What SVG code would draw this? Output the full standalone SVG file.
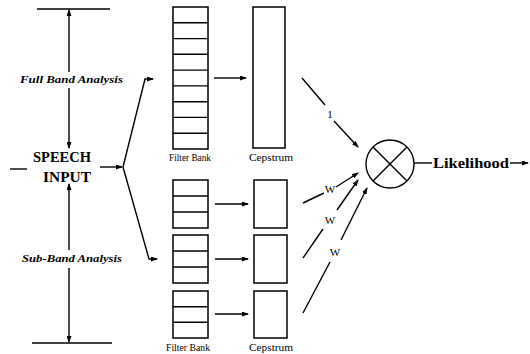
<svg xmlns="http://www.w3.org/2000/svg" width="530" height="354" viewBox="0 0 530 354">
<style>
.ln{stroke:#000;stroke-width:1.4;fill:none}
.box{stroke:#000;stroke-width:1.5;fill:#fff}
.ar{marker-end:url(#ah)}
.lbl{font-family:"Liberation Serif",serif;font-size:11px;fill:#000}
.it{font-family:"Liberation Serif",serif;font-size:10.5px;font-style:italic;font-weight:bold;fill:#000}
.big{font-family:"Liberation Serif",serif;font-size:14px;font-weight:bold;fill:#000}
</style>
<defs>
<marker id="ah" markerWidth="7" markerHeight="5" refX="6" refY="2.5" orient="auto" markerUnits="userSpaceOnUse">
<path d="M0,0 L7,2.5 L0,5 Z" fill="#000"/>
</marker>
</defs>
<rect width="530" height="354" fill="#fff"/>

<g id="axis">
<line class="ln" x1="37" y1="9" x2="110" y2="9"/>
<line class="ln" x1="32" y1="343" x2="112" y2="343"/>
<line class="ln ar" x1="69" y1="72" x2="69" y2="10"/>
<line class="ln ar" x1="69" y1="88" x2="69" y2="148"/>
<line class="ln ar" x1="69" y1="250" x2="69" y2="184"/>
<line class="ln ar" x1="69" y1="268" x2="69" y2="342"/>
<text class="it" x="20" y="83" textLength="103" lengthAdjust="spacingAndGlyphs">Full Band Analysis</text>
<text class="it" x="22" y="262" textLength="100" lengthAdjust="spacingAndGlyphs">Sub-Band Analysis</text>
</g>

<g id="speech-input">
<line class="ln" x1="10" y1="169" x2="27" y2="169"/>
<text class="big" x="33" y="162" textLength="58" lengthAdjust="spacingAndGlyphs">SPEECH</text>
<text class="big" x="43" y="182" textLength="48" lengthAdjust="spacingAndGlyphs">INPUT</text>
</g>

<g id="fb-top">
<rect class="box" x="173" y="7" width="35" height="142"/>
<g class="ln">
<line x1="173" y1="22.8" x2="208" y2="22.8"/>
<line x1="173" y1="38.6" x2="208" y2="38.6"/>
<line x1="173" y1="54.3" x2="208" y2="54.3"/>
<line x1="173" y1="70.1" x2="208" y2="70.1"/>
<line x1="173" y1="85.9" x2="208" y2="85.9"/>
<line x1="173" y1="101.7" x2="208" y2="101.7"/>
<line x1="173" y1="117.4" x2="208" y2="117.4"/>
<line x1="173" y1="133.2" x2="208" y2="133.2"/>
</g>
<text class="lbl" x="169" y="161" textLength="42" lengthAdjust="spacingAndGlyphs">Filter Bank</text>
</g>

<g id="cep-top">
<rect class="box" x="253" y="7" width="32" height="141"/>
<text class="lbl" x="249" y="161" textLength="44" lengthAdjust="spacingAndGlyphs">Cepstrum</text>
</g>

<g id="fb-1">
<rect class="box" x="173" y="180" width="35" height="48"/>
<line class="ln" x1="173" y1="196" x2="208" y2="196"/>
<line class="ln" x1="173" y1="212" x2="208" y2="212"/>
</g>
<g id="fb-2">
<rect class="box" x="173" y="235" width="35" height="48"/>
<line class="ln" x1="173" y1="251" x2="208" y2="251"/>
<line class="ln" x1="173" y1="267" x2="208" y2="267"/>
</g>
<g id="fb-3">
<rect class="box" x="173" y="291" width="35" height="47"/>
<line class="ln" x1="173" y1="306.7" x2="208" y2="306.7"/>
<line class="ln" x1="173" y1="322.3" x2="208" y2="322.3"/>
<text class="lbl" x="166" y="351" textLength="44" lengthAdjust="spacingAndGlyphs">Filter Bank</text>
</g>

<g id="cep-1"><rect class="box" x="254" y="180" width="33" height="48"/></g>
<g id="cep-2"><rect class="box" x="254" y="235" width="33" height="48"/></g>
<g id="cep-3">
<rect class="box" x="254" y="291" width="33" height="47"/>
<text class="lbl" x="249" y="351" textLength="44" lengthAdjust="spacingAndGlyphs">Cepstrum</text>
</g>

<g id="combiner">
<circle cx="390" cy="164" r="24" class="ln" stroke-width="1.6"/>
<line class="ln" x1="373" y1="147" x2="407" y2="181" stroke-width="1.6"/>
<line class="ln" x1="407" y1="147" x2="373" y2="181" stroke-width="1.6"/>
</g>

<g id="likelihood">
<text class="big" x="433" y="168" font-size="15" textLength="76" lengthAdjust="spacingAndGlyphs">Likelihood</text>
</g>

<g id="connectors">
<line class="ln ar" x1="100" y1="167" x2="122" y2="167"/>
<polyline class="ln ar" points="123,167 145,79 153,79"/>
<polyline class="ln ar" points="123,167 149,259 157,259"/>
<line class="ln ar" x1="214" y1="78" x2="246" y2="78"/>
<line class="ln ar" x1="215" y1="204" x2="248" y2="204"/>
<line class="ln ar" x1="215" y1="259" x2="248" y2="259"/>
<line class="ln ar" x1="215" y1="314" x2="248" y2="314"/>
<line class="ln" x1="302" y1="78" x2="325" y2="105"/>
<line class="ln ar" x1="334" y1="121" x2="358" y2="147"/>
<text class="lbl" x="330" y="118" text-anchor="middle">1</text>
<line class="ln" x1="303" y1="203" x2="324" y2="193"/>
<line class="ln ar" x1="336" y1="187" x2="358" y2="173"/>
<text class="lbl" x="330" y="193" text-anchor="middle" font-size="9">W</text>
<line class="ln" x1="303" y1="258" x2="323" y2="229"/>
<line class="ln ar" x1="337" y1="210" x2="358" y2="180"/>
<text class="lbl" x="330" y="224" text-anchor="middle" font-size="9">W</text>
<line class="ln" x1="303" y1="313" x2="330" y2="262"/>
<line class="ln ar" x1="341" y1="240" x2="367" y2="188"/>
<text class="lbl" x="335" y="256" text-anchor="middle" font-size="9">W</text>
<line class="ln" x1="414" y1="163" x2="432" y2="163" stroke-width="1"/>
<line class="ln ar" x1="510" y1="163" x2="528" y2="163"/>
</g>
</svg>
